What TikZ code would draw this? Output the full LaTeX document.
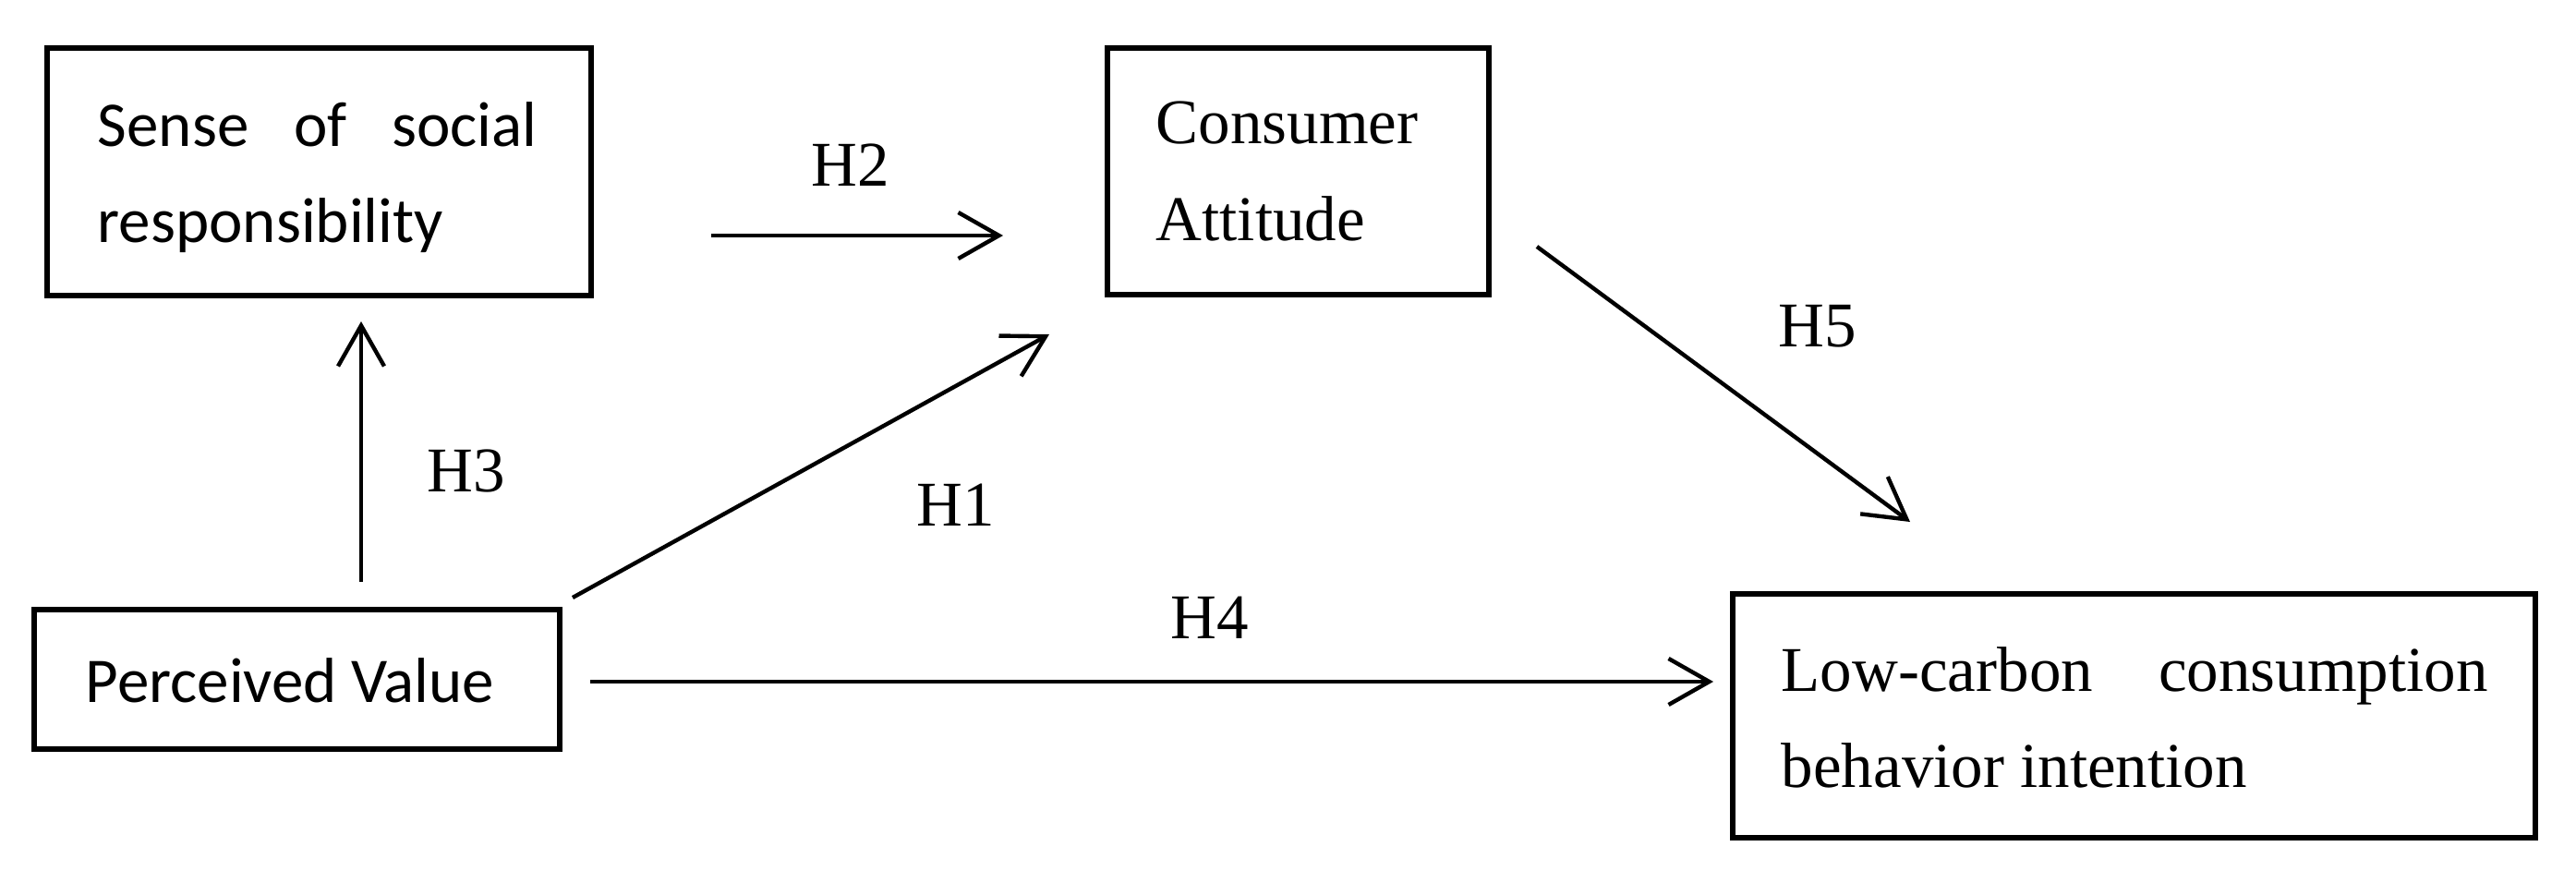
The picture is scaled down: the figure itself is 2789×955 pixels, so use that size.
\documentclass[tikz,border=0pt]{standalone}
\usepackage{fontspec}
\setmainfont{Liberation Serif}
\newfontfamily\cfont{Carlito}
\usetikzlibrary{arrows.meta}
\begin{document}
\begin{tikzpicture}[x=0.25pt,y=-0.25pt,
  box/.style={draw,line width=1.3pt,inner sep=0pt,rectangle},
  arr/.style={line width=1.1pt,-{Straight Barb[length=11pt,width=12.5pt]}},
  stxt/.style={anchor=base west,inner sep=0pt,font=\cfont\fontsize{17.25pt}{20pt}\selectfont},
  rtxt/.style={anchor=base west,inner sep=0pt,font=\fontsize{17.25pt}{20pt}\selectfont},
  lbl/.style={anchor=base,inner sep=0pt,font=\fontsize{17.25pt}{20pt}\selectfont}]
\useasboundingbox[fill=white] (0,0) rectangle (2789,955);
% boxes
\node[box,minimum width=147.25pt,minimum height=67pt] (ssr) at (345.5,186) {};
\node[box,minimum width=103.25pt,minimum height=66.75pt] (ca) at (1405.5,185.5) {};
\node[box,minimum width=142.25pt,minimum height=37.75pt] (pv) at (321.5,735.5) {};
\node[box,minimum width=217.25pt,minimum height=66pt] (lc) at (2310.5,775) {};
% box texts
\node[stxt] (ssrA) at (105,158) {\makebox[119pt][l]{Sense\hfill of\hfill social}};
\node[stxt] (ssrB) at (105,262) {responsibility};
\node[rtxt] (caA) at (1251,155) {Consumer};
\node[rtxt] (caB) at (1251,260) {Attitude};
\node[stxt] (pvA) at (92,760) {Perceived Value};
\node[rtxt] (lcA) at (1928,748) {\makebox[191.25pt][l]{Low-carbon\hfill consumption}};
\node[rtxt] (lcB) at (1928,852) {behavior intention};
% connector end points
\coordinate (h2s) at (770,255);  \coordinate (h2e) at (1086,255);
\coordinate (h3s) at (391,630);  \coordinate (h3e) at (391,348);
\coordinate (h1s) at (620,647);  \coordinate (h1e) at (1136,362);
\coordinate (h4s) at (639,738);  \coordinate (h4e) at (1855,738);
\coordinate (h5s) at (1664,267); \coordinate (h5e) at (2068,565);
% connectors
\draw[arr] (h2s) -- (h2e);
\draw[arr] (h3s) -- (h3e);
\draw[arr] (h1s) -- (h1e);
\draw[arr] (h4s) -- (h4e);
\draw[arr] (h5s) -- (h5e);
% labels
\node[lbl] (lH2) at (921,201) {H2};
\node[lbl] (lH3) at (505,532) {H3};
\node[lbl] (lH1) at (1035,569) {H1};
\node[lbl] (lH4) at (1310,691) {H4};
\node[lbl] (lH5) at (1968,375) {H5};
\end{tikzpicture}
\end{document}
